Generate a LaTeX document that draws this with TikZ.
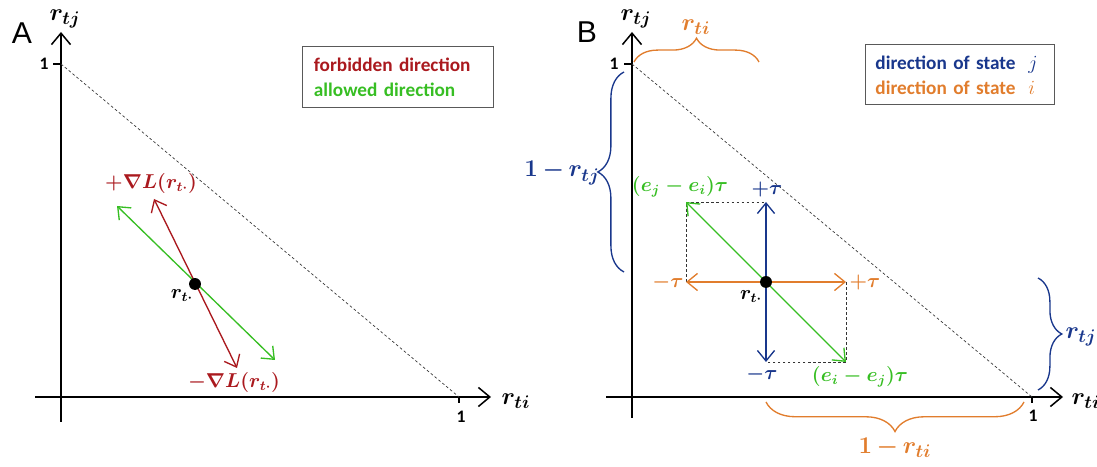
\documentclass[tikz,border=0pt]{standalone}
\usepackage{fontspec}
\setmainfont{Carlito}
\newfontfamily\panelfont{Liberation Sans}
\usetikzlibrary{arrows.meta,decorations.pathreplacing}
\definecolor{fbred}{RGB}{170,25,30}
\definecolor{okgreen}{RGB}{55,190,35}
\definecolor{statej}{RGB}{25,55,140}
\definecolor{statei}{RGB}{225,125,45}
\begin{document}
\begin{tikzpicture}[x=0.021cm, y=0.021cm, font=\large\boldmath]
	\tikzset{
		axisline/.style={line width=0.9pt, -{Straight Barb[length=2.4mm,width=4mm]}},
		twoway/.style={line width=0.8pt, {Straight Barb[length=2.2mm,width=3.6mm]}-{Straight Barb[length=2.2mm,width=3.6mm]}},
		guide/.style={line width=0.4pt, black!80, dash pattern=on 1.6pt off 1.4pt},
		legendbox/.style={draw=black!65, line width=0.6pt, align=left, inner ysep=2pt,
			font=\fontsize{11.5}{15}\selectfont\bfseries},
		span/.style={decorate, decoration={brace, amplitude=#1}, line width=0.8pt},
		onelabel/.style={font=\fontsize{10.5}{12}\selectfont\bfseries, inner sep=1pt},
		axlabel/.style={font=\fontsize{15}{17}\selectfont\boldmath, inner sep=1pt},
		panel/.style={font=\fontsize{18}{18}\selectfont\panelfont, inner sep=0pt},
		pt/.style={circle, fill=black, inner sep=0pt, minimum size=2.5mm}
	}
	\useasboundingbox (0,0) rectangle (1097,467);

	% ---------- panel A ----------
	\node[panel] (lblA) at (22,434) {A};
	\coordinate (oA) at (61,70);
	\coordinate (ybotA) at (61,45);
	\coordinate (ytopA) at (61,435);
	\coordinate (xlftA) at (35,70);
	\coordinate (xrgtA) at (491,70);
	\coordinate (oneyA) at (61,403);
	\coordinate (onexA) at (459,70);
	\draw[axisline] (ybotA) -- (ytopA);
	\draw[axisline] (xlftA) -- (xrgtA);
	\draw[line width=0.9pt] (oneyA) -- ++(-8,0);
	\draw[line width=0.9pt] (onexA) -- ++(0,-6);
	\draw[guide] (oneyA) -- (onexA);
	\node[onelabel] (tyA) at (44,403) {1};
	\node[onelabel] (txA) at (461,50) {1};
	\node[axlabel] (rtjA) at (65,448) {$r_{tj}$};
	\node[axlabel] (rtiA) at (516,66) {$r_{ti}$};

	\node[legendbox, text width=3.53cm, inner xsep=0.23cm, minimum width=3.99cm, minimum height=1.28cm] (keyA) at (398,390)
		{\textcolor{fbred}{forbidden direction}\\\textcolor{okgreen}{allowed direction}};

	\coordinate (gupA) at (117,261);
	\coordinate (gdnA) at (275,107);
	\coordinate (rupA) at (154,268);
	\coordinate (rdnA) at (237,99);
	\draw[twoway, okgreen] (gupA) -- (gdnA);
	\draw[twoway, fbred] (rupA) -- (rdnA);
	\node[pt] (dotA) at (195,183) {};
	\node (rtA) at (182,171) {$r_{t\cdot}$};
	\node[text=fbred] (plusA) at (151,284) {$+\nabla L(r_{t\cdot})$};
	\node[text=fbred] (minusA) at (234,85) {$-\nabla L(r_{t\cdot})$};

	% ---------- panel B ----------
	\node[panel] (lblB) at (587,435) {B};
	\coordinate (ybotB) at (632,49);
	\coordinate (ytopB) at (632,435);
	\coordinate (xlftB) at (606,70);
	\coordinate (xrgtB) at (1063,70);
	\coordinate (oneyB) at (632,403);
	\coordinate (onexB) at (1032,70);
	\draw[axisline] (ybotB) -- (ytopB);
	\draw[axisline] (xlftB) -- (xrgtB);
	\draw[line width=0.9pt] (oneyB) -- ++(-8,0);
	\draw[line width=0.9pt] (onexB) -- ++(0,-6);
	\draw[guide] (oneyB) -- (onexB);
	\node[onelabel] (tyB) at (614,403) {1};
	\node[onelabel] (txB) at (1033,51) {1};
	\node[axlabel] (rtjB) at (636,448) {$r_{tj}$};
	\node[axlabel] (rtiB) at (1086,66) {$r_{ti}$};

	\node[legendbox, text width=3.55cm, inner xsep=0.21cm, minimum width=3.97cm, minimum height=1.26cm] (keyB) at (960,392)
		{\textcolor{statej}{direction of state\ \ $j$}\\\textcolor{statei}{direction of state\ \ $i$}};

	% step of size tau around r_t
	\coordinate (cB) at (766,185);
	\coordinate (lfB) at (686,185);
	\coordinate (rgB) at (846,185);
	\coordinate (upB) at (766,265);
	\coordinate (dnB) at (766,105);
	\coordinate (ulB) at (686,265);
	\coordinate (drB) at (846,105);
	\draw[guide] (lfB) -- (ulB) -- (upB);
	\draw[guide] (rgB) -- (drB) -- (dnB);
	\draw[twoway, okgreen] (ulB) -- (drB);
	\draw[twoway, statei] (lfB) -- (rgB);
	\draw[twoway, statej] (upB) -- (dnB);
	\node[pt] (dotB) at (cB) {};
	\node (rtB) at (751,170) {$r_{t\cdot}$};
	\node[text=okgreen] (ejiB) at (680,280) {$(e_j-e_i)\tau$};
	\node[text=okgreen] (eijB) at (860,90) {$(e_i-e_j)\tau$};
	\node[text=statej] (ptauj) at (767,278) {$+\tau$};
	\node[text=statej] (mtauj) at (762,93) {$-\tau$};
	\node[text=statei] (mtaui) at (668,185) {$-\tau$};
	\node[text=statei] (ptaui) at (865,185) {$+\tau$};

	% braces
	\coordinate (tb1) at (634,405);
	\coordinate (tb2) at (759,405);
	\draw[span=0.5cm, statei] (tb1) -- (tb2);
	\node[axlabel, text=statei] (riTop) at (696,440) {$r_{ti}$};
	\coordinate (lb1) at (624,195);
	\coordinate (lb2) at (624,395);
	\draw[span=0.55cm, statej] (lb1) -- (lb2);
	\node[axlabel, text=statej] (rjLeft) at (562,294) {$1\,{-}\,r_{tj}$};
	\coordinate (rb1) at (1038,189);
	\coordinate (rb2) at (1038,77);
	\draw[span=0.5cm, statej] (rb1) -- (rb2);
	\node[axlabel, text=statej] (rjRight) at (1081,130) {$r_{tj}$};
	\coordinate (bb1) at (1024,65);
	\coordinate (bb2) at (766,65);
	\draw[span=0.62cm, statei] (bb1) -- (bb2);
	\node[axlabel, text=statei] (riBot) at (895,19) {$1\,{-}\,r_{ti}$};
\end{tikzpicture}
\end{document}
